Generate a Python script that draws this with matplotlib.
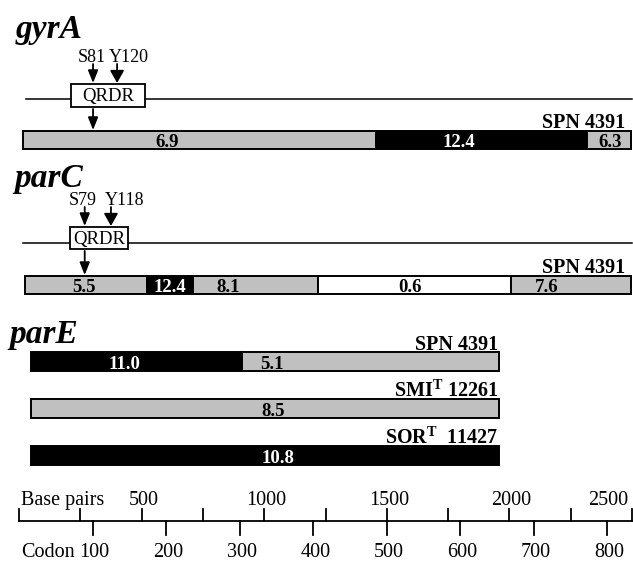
import matplotlib.pyplot as plt
from matplotlib.patches import Rectangle

plt.rcParams['font.family'] = 'Liberation Serif'
plt.rcParams['mathtext.fontset'] = 'custom'
plt.rcParams['mathtext.rm'] = 'Liberation Serif'
plt.rcParams['mathtext.bf'] = 'Liberation Serif:bold'

# gene maps (positions in bp)
gyra_gene = [30, 2500]
gyra_qrdr = [212, 514]
gyra_muts = ['S81', 'Y120']
gyra_mut_bp = [302, 400]

parc_gene = [15, 2500]
parc_qrdr = [208, 445]
parc_muts = ['S79', 'Y118']
parc_mut_bp = [268, 375]

# % divergence per segment, segment boundaries in bp
gyra_edges = [15, 1456, 2316, 2495]
gyra_div = [6.9, 12.4, 6.3]
parc_edges = [24, 522, 710, 1219, 2007, 2495]
parc_div = [5.5, 12.4, 8.1, 0.6, 7.6]
pare_spn_edges = [49, 909, 1958]
pare_spn_div = [11.0, 5.1]
pare_smi_edges = [49, 1958]
pare_smi_div = [8.5]
pare_sor_edges = [49, 1958]
pare_sor_div = [10.8]

strains = ['SPN 4391', r'SMI$^{\mathbf{T}}$ 12261', r'SOR$^{\mathbf{T}}$  11427']

bp_labels = [500, 1000, 1500, 2000, 2500]
bp_ticks = list(range(0, 2501, 250))
codon_labels = [100, 200, 300, 400, 500, 600, 700, 800]

PX = 1 / 0.2452  # bp per pixel

fig = plt.figure(figsize=(6.33, 5.61), dpi=100)
ax = fig.add_axes([0, 0, 1, 1])
ax.set_xlim(-19 * PX, 614 * PX)
ax.set_ylim(561, 0)
ax.axis('off')


def shade(v):
    if v >= 10:
        return 'black'
    if v >= 5:
        return '#c0c0c0'
    return 'white'


def bar(edges, vals, label_x, top, h):
    for i, v in enumerate(vals):
        c = shade(v)
        ax.add_patch(Rectangle((edges[i], top), edges[i + 1] - edges[i], h,
                               fc=c, ec='black', lw=1.4, zorder=2))
        ax.text(label_x[i], top + h - 2.5, '%.1f' % v, ha='center', va='baseline',
                fontsize=13.5, fontweight='bold',
                color='white' if c == 'black' else 'black', zorder=3)


def gene(span, qrdr, muts, mut_bp, line_y, box_top, box_bot, bar_top, lab_off):
    ax.plot(span, [line_y, line_y], color='black', lw=1.1, zorder=1)
    ax.add_patch(Rectangle((qrdr[0], box_top), qrdr[1] - qrdr[0], box_bot - box_top,
                           fc='white', ec='black', lw=1.3, zorder=2))
    ax.text((qrdr[0] + qrdr[1]) / 2, (box_top + box_bot) / 2 + 1, 'QRDR',
            ha='center', va='center', fontsize=13.5, zorder=3)
    heads = ['-|>,head_length=0.75,head_width=0.3', '-|>,head_length=0.75,head_width=0.42']
    for i, (m, x) in enumerate(zip(muts, mut_bp)):
        ax.annotate('', xy=(x, box_top - 1), xytext=(x, box_top - 20),
                    arrowprops=dict(arrowstyle=heads[i], color='black', lw=1.3,
                                    shrinkA=0, shrinkB=0))
        ax.text(x + lab_off[i] * PX, box_top - 22, m, ha='center', va='baseline',
                fontsize=13)
    ax.annotate('', xy=(mut_bp[0], bar_top - 1), xytext=(mut_bp[0], box_bot + 2),
                arrowprops=dict(arrowstyle=heads[0], color='black', lw=1.3,
                                shrinkA=0, shrinkB=0))


def title(s, x, y):
    ax.text(x * PX - 19 * PX, y, s, fontsize=24, fontweight='bold', style='italic',
            ha='left', va='baseline')


# gyrA
title('gyrA', 16, 38)
gene(gyra_gene, gyra_qrdr, gyra_muts, gyra_mut_bp, 99, 84, 107, 131, [-1, 12])
ax.text(2474, 128, strains[0], ha='right', va='baseline', fontsize=14.5, fontweight='bold')
bar(gyra_edges, gyra_div, [603, 1794, 2410], 131, 18)

# parC
title('parC', 14, 187)
gene(parc_gene, parc_qrdr, parc_muts, parc_mut_bp, 243, 227, 249, 276, [-2, 14])
ax.text(2474, 273, strains[0], ha='right', va='baseline', fontsize=14.5, fontweight='bold')
bar(parc_edges, parc_div, [265, 616, 852, 1595, 2153], 276, 18)

# parE
title('parE', 9, 343)
rows = [(pare_spn_edges, pare_spn_div, [432, 1032], 352),
        (pare_smi_edges, pare_smi_div, [1036], 399),
        (pare_sor_edges, pare_sor_div, [1056], 446)]
for (e, d, lx, top), s in zip(rows, strains):
    ax.text(1956, top - 2.5, s, ha='right', va='baseline', fontsize=14.5, fontweight='bold')
    bar(e, d, lx, top, 19)

# scale
ax.plot([0, 2500], [521, 521], color='black', lw=1.3)
for t in bp_ticks:
    ax.plot([t, t], [509, 521], color='black', lw=1.3)
for c in codon_labels:
    ax.plot([3 * c, 3 * c], [521, 535], color='black', lw=1.3)
    ax.text(3 * c + 2 * PX, 557, str(c), ha='center', va='baseline', fontsize=14.5)
for t in bp_labels:
    x = t + 2 * PX if t < 2500 else t - 4 * PX
    ax.text(x, 505, str(t), ha='center' if t < 2500 else 'right', va='baseline',
            fontsize=14.5)
ax.text(2 * PX, 505, 'Base pairs', ha='left', va='baseline', fontsize=14.5)
ax.text(2 * PX, 557, 'Codon', ha='left', va='baseline', fontsize=14.5)

fig.savefig('out.png', dpi=100)
